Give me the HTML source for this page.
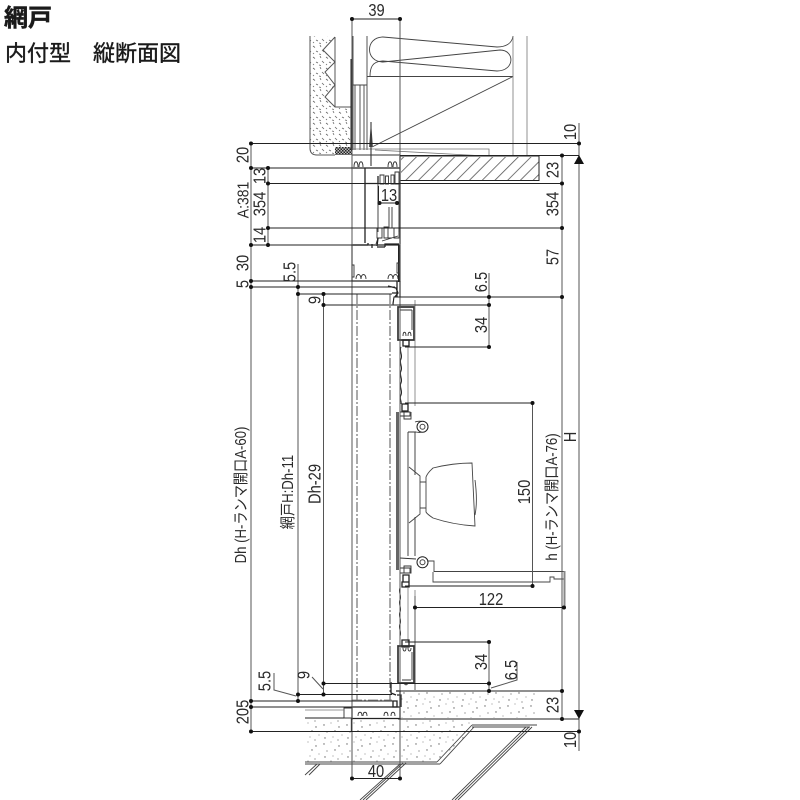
<!DOCTYPE html>
<html><head><meta charset="utf-8"><style>
html,body{margin:0;padding:0;background:#fff}
svg{display:block}
.t{font-family:"Liberation Sans","Noto Sans CJK JP",sans-serif;font-size:17.5px;fill:#2a2a2a;text-anchor:middle}
.j{font-size:15.5px}
.h{font-family:"Liberation Sans","Noto Sans CJK JP",sans-serif;fill:#1a1a1a}
.d{stroke:#222;stroke-width:1;fill:none}
.g{stroke:#555;stroke-width:1;fill:none}
.l{stroke:#777;stroke-width:.8;fill:none}
.k{stroke:#222;stroke-width:1.3;fill:none}
.p{stroke:#444;stroke-width:.9;fill:none}
.s{stroke:#333;stroke-width:.9;fill:none}
</style></head><body>
<svg width="800" height="800" viewBox="0 0 800 800" xmlns="http://www.w3.org/2000/svg">
<defs>
<pattern id="st" width="23" height="19" patternUnits="userSpaceOnUse">
<g fill="#666"><circle cx="2" cy="3" r=".7"/><circle cx="9" cy="1" r=".5"/><circle cx="17" cy="5" r=".7"/><circle cx="5" cy="10" r=".6"/><circle cx="13" cy="9" r=".7"/><circle cx="20" cy="13" r=".5"/><circle cx="3" cy="16" r=".7"/><circle cx="11" cy="15" r=".5"/><circle cx="16" cy="18" r=".6"/></g>
</pattern>
<pattern id="ws" width="13" height="11" patternUnits="userSpaceOnUse">
<g stroke="#666" stroke-width=".8"><path d="M1 2l2 1.500M8 1l1 2M4 7l2 1M10 6l2 2M1 10l1-1M7 10l2 .5"/></g>
</pattern>
<pattern id="ht" width="9" height="9" patternUnits="userSpaceOnUse" patternTransform="rotate(45)">
<rect x="0" y="0" width=".8" height="9" fill="#555"/>
</pattern>
<pattern id="ck" width="3" height="3" patternUnits="userSpaceOnUse">
<rect width="3" height="3" fill="#bbb"/><rect width="1.500" height="1.500" fill="#222"/><rect x="1.500" y="1.500" width="1.500" height="1.500" fill="#222"/>
</pattern>
</defs>
<text class="h" x="4" y="26" font-size="24" font-weight="700" stroke="#1a1a1a" stroke-width=".5">網戸</text>
<text class="h" x="5" y="61" font-size="22" stroke="#1a1a1a" stroke-width=".4">内付型　縦断面図</text>

<!-- concrete fills -->
<path d="M310 36V148Q310 155 317 155H352V107H335L325 97 335 85 325 72 335 62 323 50 335 37Z" fill="url(#ws)"/>
<rect x="401" y="692" width="136" height="26" fill="url(#st)"/>
<rect x="305" y="720" width="46" height="12" fill="url(#st)"/>
<path d="M305 732H470L437 762H305Z" fill="url(#st)"/>
<rect x="352" y="720" width="118" height="12" fill="url(#st)"/>
<rect x="401" y="157" width="138" height="24" fill="url(#ht)"/>
<rect x="335" y="147" width="17" height="8" fill="url(#ck)"/>

<!-- upper wall -->
<path class="g" d="M310 36V148Q310 155 317 155H335M335 37L323 50 335 62 325 72 335 85 325 97 335 107H352V155"/>
<path class="p" d="M335 37V107"/>
<path class="d" d="M351 59V150"/>
<path class="p" d="M353 36V150M367 36V150M352 85H367M355 85V150M360 85V150M364 85V150"/>
<path class="p" d="M383 37L497 47C505 47 512 44 513 36M383 37C365 37 365 62 383 62L500 50C515 50 515 71 497 71L383 61C372 61 370 68 370 76.500"/>
<path class="p" d="M367 76.500H513L372 147"/>
<path class="l" d="M513 36V155M527 36V155M352 149H489V155.500M375 150L477 155.500"/>
<path d="M371 122L369 147H373Z" fill="#555"/>
<path class="d" d="M371 122V166"/>
<path class="d" d="M400 156H539V180.500H400"/>

<!-- head frame -->
<path class="k" d="M353 168H400M365 168V243M400 156V244"/>
<path class="s" d="M352 155H400M354 167c0-7 4-7 4 0M359 167c0-7 4-7 4 0M388 167c0-7 4-7 4 0M393 167c0-7 4-7 4 0"/>
<path class="k" d="M365 183.500H378M378 183.500V176"/>
<path class="s" d="M378 184V232M399 184V232M389 207V228M392 207V228"/>
<path class="s" d="M380 175h4v9h-4zM385.500 176h3v8h-3zM391 175h3v9h-3zM395 172h4v12h-4z"/>
<path class="s" d="M377 228h5v10h-5zM384 227h4v11h-4zM394 228h5v10h-5z"/>
<path class="s" d="M384 238h8M378 238l-2 6M382 241L398 236"/>
<path class="k" d="M352 245H368M368 245v-2M372 244v4M378 238l-1 8M377 247h8M385 247v-3h14"/>
<!-- lower frame -->
<rect x="352" y="245" width="48" height="36" fill="none" stroke="#222" stroke-width="1.200"/>
<path d="M398 245h2.500v37h-2.500z" fill="#222"/>
<path class="s" d="M354 265h-2v12h2zM397 263h2v10h-2zM356 279c0-6 5-6 5 0M361 279c0-6 5-6 5 0M388 279c0-6 5-6 5 0M393 279c0-6 5-6 5 0"/>
<path class="k" d="M388 286l8 2 2 5-4 5-1 6M397 281V297M400 281V297M392 293h6"/>
<path d="M394 297H400V305H393Z" fill="#fff" stroke="#222"/>

<!-- door upper stile -->
<path d="M398 307h16v33h-16z" fill="none" stroke="#333" stroke-width="1.700"/>
<path class="s" d="M400 310h12M400 310V330M412 310V330M403 336c0-5 3-5 3 0M408 336c0-5 3-5 3 0"/>
<path class="k" d="M403 340h6v6h-6z"/>
<path class="d" d="M401 347c-2 4 2 8 0 12s2 8 0 12 2 8 0 12 2 8 0 12 1 6 0 9"/>
<path class="l" d="M408 347V405M415 300V406"/>
<path class="k" d="M402 404h6v7h-6z"/>

<!-- handle -->
<path d="M396 412h3v158h-3z" fill="#666"/>
<path class="s" d="M400 412h10v4h-10zM404 412v7h7v-7M400 568h10v5h-10zM404 566h7v7h-7z"/>
<path class="s" d="M400 412V568M408 432V556M415 432V475M415 517V556"/>
<path class="s" d="M408 432H416M415 422C420 420 428 422 428 427 428 432 420 433 416 432M400 558l16 1"/>
<circle cx="422.500" cy="426.700" r="5.500" fill="#fff" stroke="#222" stroke-width="1"/>
<circle cx="422.500" cy="426.700" r="2.500" fill="none" stroke="#444"/>
<circle cx="422.500" cy="562.300" r="5.500" fill="#fff" stroke="#222" stroke-width="1"/>
<circle cx="422.500" cy="562.300" r="2.500" fill="none" stroke="#444"/>
<path class="p" d="M409 467L420 476V514L409 523M420 482H426M420 508H426M426 477C428 472 431 470 433 468C445 465 458 463 472 463L475 526C458 525 445 522 433 518C430 516 427 514 426 512ZM426 477V512M475 480C477 495 477 505 475 515"/>
<path class="p" d="M427 561H434V571.500H564V579H554V577H550V582H433V572"/>
<path d="M563.500 571v37h2v-37z" fill="#888"/>
<path class="k" d="M403 575h6v7h-6zM402 582h7v5h-7z"/>
<path class="d" d="M400 588c-2 4 2 8 0 12s2 8 0 12 2 8 0 12 2 8 0 12"/>
<path class="l" d="M408 588V642M415 590V690"/>

<!-- door lower stile -->
<path class="k" d="M402 640h7v7h-7z"/>
<path d="M398 646h16v37h-16z" fill="none" stroke="#333" stroke-width="1.700"/>
<path class="s" d="M403 648c0 4 3 4 3 0M408 648c0 4 3 4 3 0M400 652V680M412 652V680M402 680h9M403 683l3 2 3-2"/>
<path class="k" d="M392 683h-1V693l5 2M396 691H400M393 701h4v6h-4zM397 695h4v12"/>
<path class="k" d="M352 707H400M400 691V719M352 707V720M352 718.500H400"/>
<path class="s" d="M344 708h8v10h-8zM358 716c0-5 4-5 4 0M363 716c0-5 4-5 4 0M384 716c0-5 4-5 4 0M391 716c0-5 4-5 4 0"/>
<path class="k" d="M351.500 718V732"/>
<path class="d" d="M305 707H352M305 718H344M397 691H562"/>
<path class="l" d="M305 710H344"/>

<!-- dashed screen lines -->
<path class="g" stroke-dasharray="10 2 2 2" d="M357 294V700"/>
<path class="g" stroke-dasharray="10 2 2 2" d="M390 294V700"/>
<path class="l" d="M352 700H392" stroke-dasharray="10 2 2 2"/>
<path class="l" d="M352 287H395"/>

<!-- floor slab -->
<path class="p" d="M472 725H537M472 727H530M472 725L437 762M474 727L440 764M305 762H437M305 764H440M305 775L317 764M309 775L320 764"/>
<path class="p" d="M360 800L400 764M363 800L403 763M366 800L406 763"/>
<path class="p" d="M452 800L526 727M455 800L529 727M458 800L532 727"/>

<!-- dimension lines -->
<g class="g"><path d="M352 19V778M400 19V778"/><path d="M251 143.500V731.500M268 168V245M298 264V701M323.500 294V694.500M562 155.500V719M579 123V751M489 273V347M489 642V691M532.500 403V586M415 596V690"/>
<path d="M274 673V690L296 696M312 677L323 689M517 662V680L491 688"/></g>
<g class="d">
<path d="M352 19H400M251 143.500H579M400 155.500H579M251 168H365M268 183.500H562M268 228H562M251 245H352"/>
<path d="M251 281H400M251 287H395M298 294H392M323.500 305H489M397 297H562M405 347H489M405 403H532.500M405 586H532.500M415 607.500H564"/>
<path d="M405 642H489M323.500 683.500H489M298 694.500H392M251 701H395M251 707H352M400 691H562M398 719H579M251 731.500H579M352 778.500H400"/>
</g>
<g fill="#111">
<circle cx="352" cy="19" r="2"/><circle cx="400" cy="19" r="2"/>
<circle cx="251" cy="143.500" r="2"/><circle cx="579" cy="143.500" r="2"/>
<circle cx="562" cy="155.500" r="2"/><circle cx="251" cy="168" r="2"/><circle cx="268" cy="168" r="2"/>
<circle cx="268" cy="183.500" r="2"/><circle cx="562" cy="183.500" r="2"/><circle cx="379.500" cy="203" r="2"/><circle cx="397" cy="203" r="2"/>
<circle cx="268" cy="228" r="2"/><circle cx="562" cy="228" r="2"/><circle cx="251" cy="245" r="2"/><circle cx="268" cy="245" r="2"/>
<circle cx="251" cy="281" r="2"/><circle cx="251" cy="287" r="2"/><circle cx="298" cy="287" r="2"/><circle cx="298" cy="294" r="2"/><circle cx="323.500" cy="294" r="2"/><circle cx="323.500" cy="305" r="2"/><circle cx="489" cy="297" r="2"/><circle cx="562" cy="297" r="2"/><circle cx="489" cy="305" r="2"/><circle cx="489" cy="347" r="2"/>
<circle cx="532.500" cy="403" r="2"/><circle cx="532.500" cy="586" r="2"/><circle cx="415" cy="607.500" r="2"/><circle cx="564" cy="607.500" r="2"/>
<circle cx="489" cy="642" r="2"/><circle cx="489" cy="683.500" r="2"/><circle cx="323.500" cy="683.500" r="2"/><circle cx="489" cy="691" r="2"/><circle cx="562" cy="691" r="2"/>
<circle cx="298" cy="694.500" r="2"/><circle cx="323.500" cy="694.500" r="2"/><circle cx="298" cy="701" r="2"/><circle cx="251" cy="701" r="2"/><circle cx="251" cy="707" r="2"/>
<circle cx="562" cy="719" r="2"/><circle cx="251" cy="731.500" r="2"/><circle cx="579" cy="731.500" r="2"/><circle cx="352" cy="778.500" r="2"/><circle cx="400" cy="778.500" r="2"/>
<path d="M579 155L584 164H574ZM579 719L584 710H574Z"/>
</g>
<path class="d" d="M378.500 186V203H398"/>

<!-- labels -->
<text class="t" transform="translate(376.500,16) scale(.84,1)">39</text>
<text class="t" transform="translate(248.500,155) rotate(-90) scale(.84,1)">20</text>
<text class="t" transform="translate(265.500,176) rotate(-90) scale(.84,1)">13</text>
<text class="t j" transform="translate(248.500,200) rotate(-90) scale(.9,1)">A:381</text>
<text class="t" transform="translate(265.500,204) rotate(-90) scale(.84,1)">354</text>
<text class="t" transform="translate(265.500,235) rotate(-90) scale(.84,1)">14</text>
<text class="t" transform="translate(248.500,263) rotate(-90) scale(.84,1)">30</text>
<text class="t" transform="translate(248.500,284) rotate(-90) scale(.84,1)">5</text>
<text class="t" transform="translate(295.500,272) rotate(-90) scale(.84,1)">5.5</text>
<text class="t" transform="translate(320.500,300) rotate(-90) scale(.84,1)">9</text>
<text class="t j" transform="translate(246,495) rotate(-90) scale(.85,1)">Dh (H-ランマ開口A-60)</text>
<text class="t j" transform="translate(293,492) rotate(-90) scale(.85,1)">網戸H:Dh-11</text>
<text class="t" transform="translate(320.500,484) rotate(-90) scale(.84,1)">Dh-29</text>
<text class="t" transform="translate(270.500,681) rotate(-90) scale(.84,1)">5.5</text>
<text class="t" transform="translate(309.500,675) rotate(-90) scale(.84,1)">9</text>
<text class="t" transform="translate(248.500,712) rotate(-90) scale(.84,1)">205</text>
<text class="t" transform="translate(576,132) rotate(-90) scale(.84,1)">10</text>
<text class="t" transform="translate(558.500,170) rotate(-90) scale(.84,1)">23</text>
<text class="t" transform="translate(389,201) scale(.84,1)">13</text>
<text class="t" transform="translate(558.500,204) rotate(-90) scale(.84,1)">354</text>
<text class="t" transform="translate(558.500,257) rotate(-90) scale(.84,1)">57</text>
<text class="t" transform="translate(487,282) rotate(-90) scale(.84,1)">6.5</text>
<text class="t" transform="translate(487,325) rotate(-90) scale(.84,1)">34</text>
<text class="t" transform="translate(530,492) rotate(-90) scale(.84,1)">150</text>
<text class="t j" transform="translate(557,497) rotate(-90) scale(.85,1)">h (H-ランマ開口A-76)</text>
<text class="t" transform="translate(576,437) rotate(-90) scale(.84,1)">H</text>
<text class="t" transform="translate(491,605) scale(.84,1)">122</text>
<text class="t" transform="translate(487,662) rotate(-90) scale(.84,1)">34</text>
<text class="t" transform="translate(517,670) rotate(-90) scale(.84,1)">6.5</text>
<text class="t" transform="translate(558.500,705) rotate(-90) scale(.84,1)">23</text>
<text class="t" transform="translate(576,740) rotate(-90) scale(.84,1)">10</text>
<text class="t" transform="translate(376,777) scale(.84,1)">40</text>
</svg>
</body></html>
